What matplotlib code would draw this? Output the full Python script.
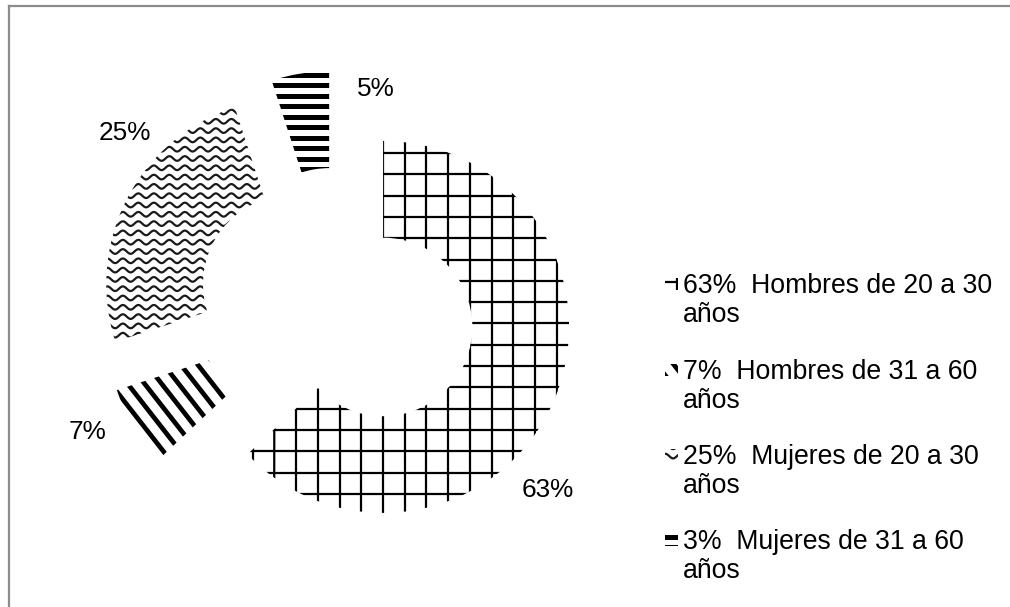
import numpy as np
import matplotlib.pyplot as plt
from matplotlib.collections import LineCollection
from matplotlib.patches import Rectangle
from matplotlib.lines import Line2D

plt.rcParams['font.family'] = ['Liberation Sans', 'DejaVu Sans']

# datos
valores = [63, 7, 25, 5]
etiquetas = ['63%', '7%', '25%', '5%']
leyenda = ['63%  Hombres de 20 a 30\naños',
           '7%  Hombres de 31 a 60\naños',
           '25%  Mujeres de 20 a 30\naños',
           '3%  Mujeres de 31 a 60\naños']

# geometria en pixeles (centro del anillo y radio)
CX, CY, R = 337, 307, 186
W, H = 1010, 607


def px(x, y):
    # pixeles -> coordenadas de datos
    return (x - CX) / R, (CY - y) / R


fig = plt.figure(figsize=(W / 100, H / 100), dpi=100)
ax = fig.add_axes([0, 0, 1, 1])

wedges, _ = ax.pie(valores, startangle=90, counterclock=False,
                   explode=[0.27] * 4, radius=1,
                   wedgeprops=dict(width=0.52, facecolor='white', edgecolor='none'))
ax.set_aspect('auto')
ax.set_xlim((0 - CX) / R, (W - CX) / R)
ax.set_ylim((CY - H) / R, CY / R)
ax.axis('off')


def rayas(patch, angulo, paso, lw, origen, color='black'):
    # lineas rectas paralelas recortadas al patch (paso en pixeles)
    a = np.deg2rad(angulo)
    u = np.array([np.cos(a), np.sin(a)])
    n = np.array([-np.sin(a), np.cos(a)])
    o = np.array(px(*origen))
    p = paso / R
    segs = []
    for k in range(-80, 81):
        c = o + n * k * p
        segs.append([c - u * 6, c + u * 6])
    lc = LineCollection(segs, colors=color, linewidths=lw, capstyle='butt')
    ax.add_collection(lc)
    lc.set_clip_path(patch)


def ondas(patch, paso, largo, amp, lw, origen, color='#1a1a1a'):
    # lineas onduladas horizontales
    ox, oy = px(*origen)
    xs = np.linspace(-3, 4, 3000)
    segs = []
    for k in range(-60, 61):
        y0 = oy + k * paso / R
        ys = y0 + (amp / R) * np.sin(2 * np.pi * (xs - ox) / (largo / R))
        segs.append(np.column_stack([xs, ys]))
    lc = LineCollection(segs, colors=color, linewidths=lw)
    ax.add_collection(lc)
    lc.set_clip_path(patch)


def relleno(i, patch, ox=0, oy=0):
    if i == 0:
        rayas(patch, 90, 21.7, 1.6, (383 + ox, 153 + oy))
        rayas(patch, 0, 21.3, 1.6, (383 + ox, 153 + oy))
    elif i == 1:
        rayas(patch, -52, 13.4, 3.4, (223 + ox, 397 + oy))
    elif i == 2:
        ondas(patch, 9.3, 15.5, 2.3, 1.6, (150 + ox, 205 + oy))
    else:
        rayas(patch, 0, 10.5, 3.6, (300 + ox, 85 + oy))


for i, w in enumerate(wedges):
    relleno(i, w)

# etiquetas de porcentaje
pos_etiquetas = [(548, 490), (88, 432), (125, 133), (376, 89)]
for txt, (x, y) in zip(etiquetas, pos_etiquetas):
    ax.text(*px(x, y), txt, fontsize=18.8, ha='center', va='center')

# leyenda
base = [293, 379, 464, 549]
for i, (txt, b) in enumerate(zip(leyenda, base)):
    x0, y0 = px(665, b - 3)
    caja = Rectangle((x0, y0), 13 / R, 12 / R, facecolor='white', edgecolor='none')
    ax.add_patch(caja)
    if i == 0:
        relleno(i, caja, ox=665 - 383 + 12, oy=b - 11 - 153)
    else:
        relleno(i, caja)
    l1, l2 = txt.split('\n')
    ax.text(*px(683, b), l1, fontsize=19.2, ha='left', va='baseline')
    ax.text(*px(683, b + 29), l2, fontsize=19.2, ha='left', va='baseline')

# marco
ax.add_line(Line2D([px(9, 6)[0], px(W, 6)[0]], [px(9, 6)[1]] * 2, color='#8c8c8c', lw=1.6))
ax.add_line(Line2D([px(9, 6)[0]] * 2, [px(9, 6)[1], px(9, H)[1]], color='#8c8c8c', lw=1.6))

fig.savefig('out.png', dpi=100)
